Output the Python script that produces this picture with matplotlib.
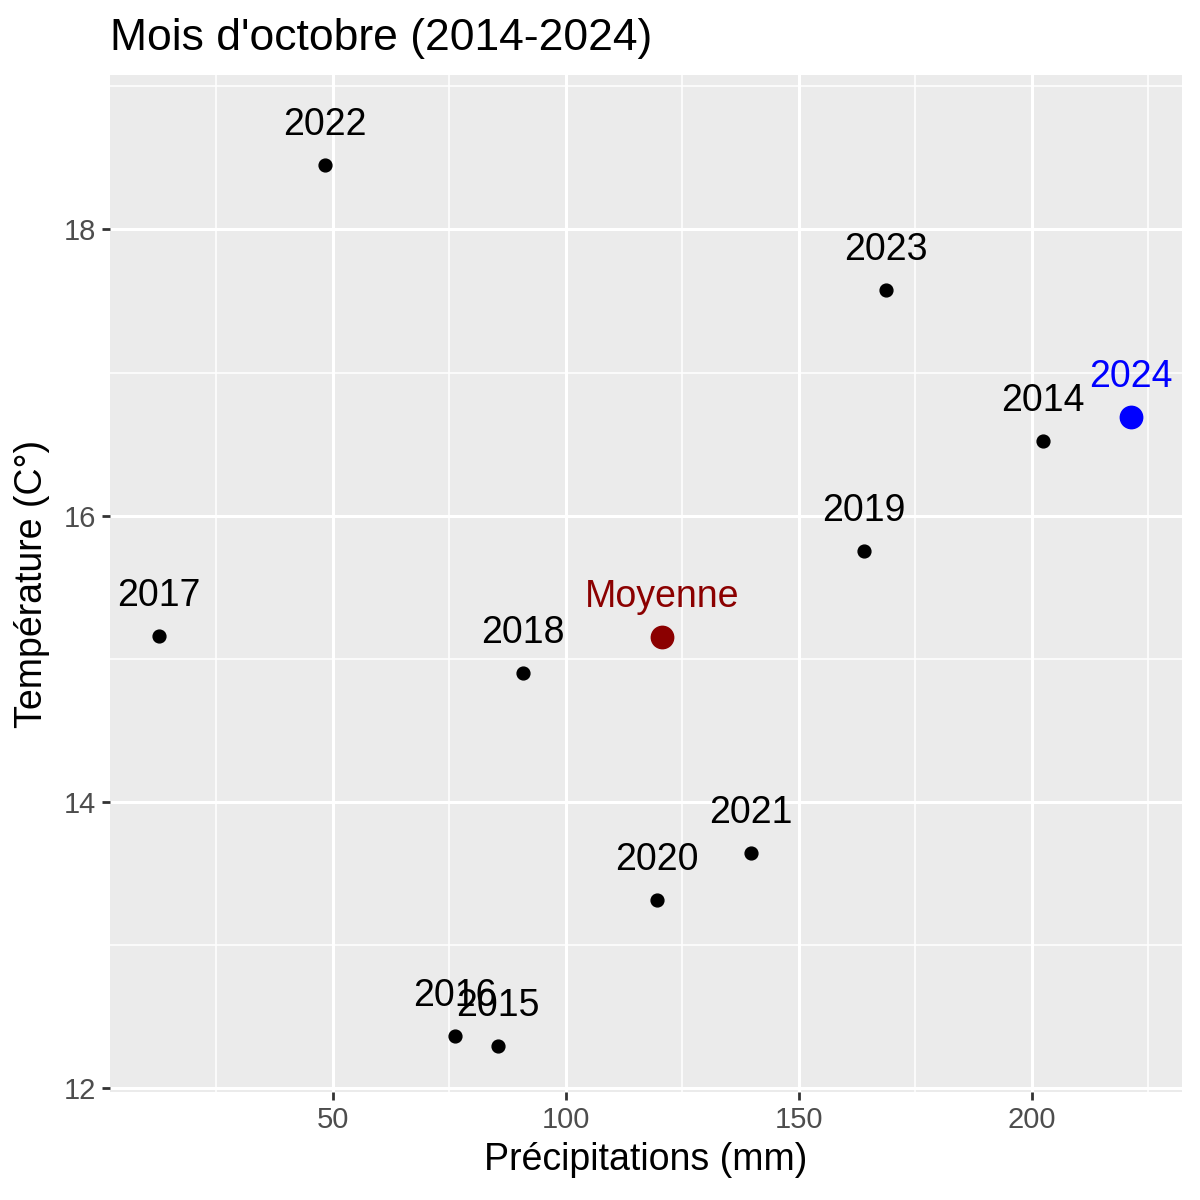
import matplotlib
matplotlib.use("Agg")
import matplotlib.pyplot as plt

plt.rcParams['font.family'] = ['Liberation Sans', 'DejaVu Sans']

# values
years = ['2014', '2015', '2016', '2017', '2018', '2019', '2020', '2021', '2022', '2023']
precip = [202.4, 85.4, 76.2, 12.7, 90.8, 164.0, 119.5, 139.7, 48.3, 168.7]
temp = [16.52, 12.29, 12.36, 15.16, 14.90, 15.75, 13.31, 13.64, 18.45, 17.58]

last_year = '2024'
last_precip = 221.2
last_temp = 16.69

mean_label = 'Moyenne'
mean_precip = 120.6
mean_temp = 15.15

nudge = 0.28

fig = plt.figure(figsize=(12, 12), dpi=100)
ax = fig.add_axes([0.0917, 0.09, 0.985 - 0.0917, 0.9375 - 0.09])
ax.set_facecolor('#EBEBEB')

ax.scatter(precip, temp, s=85, color='black', zorder=3)
for yr, x, y in zip(years, precip, temp):
    ax.text(x, y + nudge, yr, ha='center', va='center', fontsize=27, color='black', zorder=4)

ax.scatter([last_precip], [last_temp], s=260, color='#0000FF', zorder=3)
ax.text(last_precip, last_temp + nudge, last_year, ha='center', va='center', fontsize=27, color='#0000FF', zorder=4)

ax.scatter([mean_precip], [mean_temp], s=260, color='#8B0000', zorder=3)
ax.text(mean_precip, mean_temp + nudge, mean_label, ha='center', va='center', fontsize=27, color='#8B0000', zorder=4)

ax.set_xlim(2.2, 232.2)
ax.set_ylim(11.97, 19.08)
ax.set_xticks([50, 100, 150, 200])
ax.set_yticks([12, 14, 16, 18])
ax.set_xticks([25, 75, 125, 175, 225], minor=True)
ax.set_yticks([13, 15, 17, 19], minor=True)
ax.grid(which='major', color='white', linewidth=2.2)
ax.grid(which='minor', color='white', linewidth=1.1)
ax.set_axisbelow(True)
for s in ax.spines.values():
    s.set_visible(False)
ax.tick_params(which='major', length=6, width=2, color='#333333', labelsize=21, labelcolor='#4D4D4D', pad=4)
ax.tick_params(which='minor', length=0)

ax.set_xlabel('Précipitations (mm)', fontsize=27, labelpad=6)
ax.set_ylabel('Température (C°)', fontsize=27, labelpad=10)
ax.set_title("Mois d'octobre (2014-2024)", fontsize=32, loc='left', pad=18)

fig.savefig('out.png', dpi=100)
